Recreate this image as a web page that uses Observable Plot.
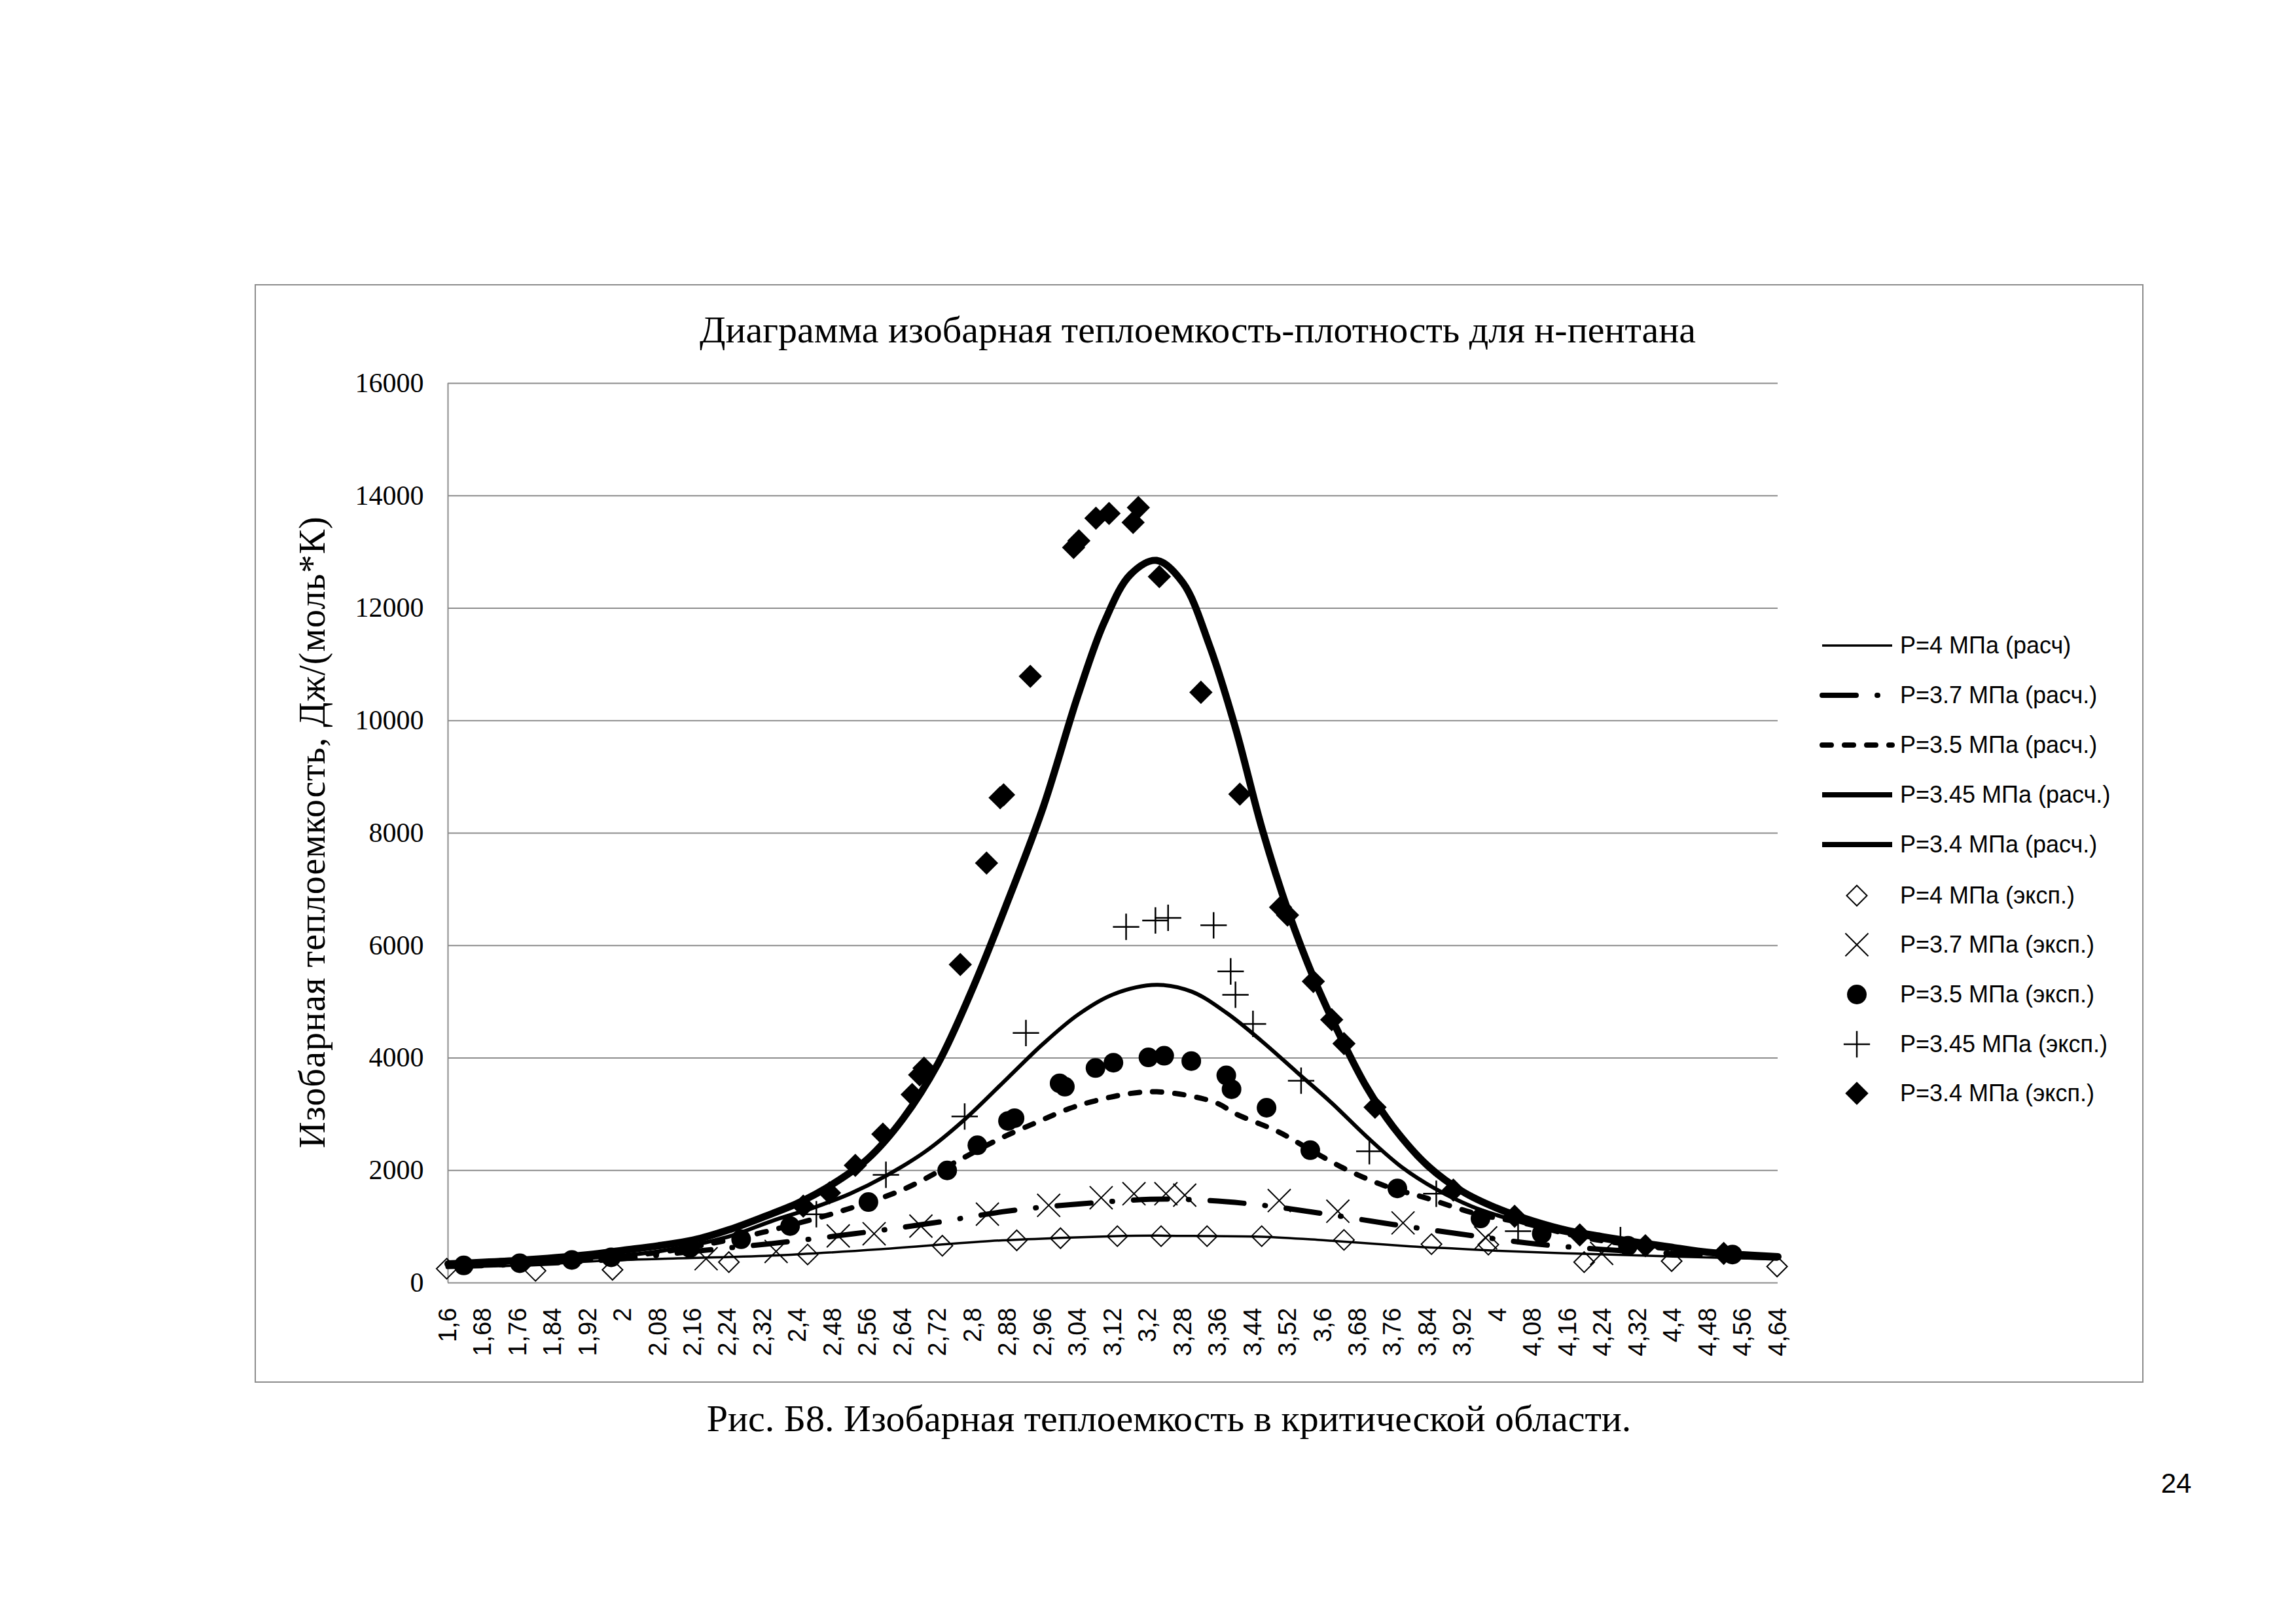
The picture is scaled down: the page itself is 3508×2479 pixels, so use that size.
<!DOCTYPE html>
<html>
<head>
<meta charset="utf-8">
<script src="https://cdn.jsdelivr.net/npm/d3@7"></script>
<script src="https://cdn.jsdelivr.net/npm/@observablehq/plot@0.6"></script>
<style>
  html, body { margin: 0; padding: 0; background: #fff; }
  #page { position: relative; width: 3508px; height: 2479px; background: #fff; overflow: hidden; }
  #page svg.plot { position: absolute; left: 0; top: 0; }
  .abs { position: absolute; white-space: nowrap; color: #000; }
  .serif { font-family: "Liberation Serif", "DejaVu Serif", serif; }
  .sans { font-family: "Liberation Sans", "DejaVu Sans", sans-serif; }
</style>
</head>
<body>
<div id="page"></div>
<script>
// ---------- DATA ----------
const xTicks = [1.6,1.68,1.76,1.84,1.92,2,2.08,2.16,2.24,2.32,2.4,2.48,2.56,2.64,2.72,2.8,2.88,2.96,3.04,3.12,3.2,3.28,3.36,3.44,3.52,3.6,3.68,3.76,3.84,3.92,4,4.08,4.16,4.24,4.32,4.4,4.48,4.56,4.64];
const yTicks = [0,2000,4000,6000,8000,10000,12000,14000,16000];

const titleText = "Диаграмма изобарная теплоемкость-плотность для н-пентана";
const yLabel = "Изобарная теплоемкость, Дж/(моль*К)";
const captionText = "Рис. Б8. Изобарная теплоемкость в критической области.";
const pageNumber = "24";

const legendLabels = [
  "P=4 МПа (расч)", "P=3.7 МПа (расч.)", "P=3.5 МПа (расч.)", "P=3.45 МПа (расч.)", "P=3.4 МПа (расч.)",
  "P=4 МПа (эксп.)", "P=3.7 МПа (эксп.)", "P=3.5 МПа (эксп.)", "P=3.45 МПа (эксп.)", "P=3.4 МПа (эксп.)"
];

// calculated curves [density, Cp]
const calcP40 = [[1.6,270],[1.8,320],[1.94,388],[2.1,430],[2.34,485],[2.59,600],[2.84,745],[3.0,800],[3.12,830],[3.22,840],[3.34,832],[3.46,822],[3.6,760],[3.8,650],[3.9,610],[4.0,570],[4.18,520],[4.4,470],[4.64,420]];
const calcP37 = [[1.6,290],[1.8,340],[2.0,430],[2.16,560],[2.34,700],[2.53,876],[2.71,1068],[2.88,1278],[3.06,1416],[3.24,1490],[3.42,1416],[3.58,1255],[3.76,1040],[3.95,830],[4.09,690],[4.24,595],[4.4,520],[4.64,440]];
const calcP35 = [[1.6,310],[1.76,360],[1.92,420],[2.08,540],[2.24,760],[2.32,900],[2.4,1060],[2.5,1280],[2.64,1660],[2.77,2190],[2.86,2560],[2.95,2870],[3.02,3100],[3.08,3240],[3.16,3370],[3.22,3400],[3.3,3320],[3.36,3190],[3.4,3010],[3.5,2680],[3.57,2370],[3.65,2030],[3.74,1730],[3.84,1500],[3.95,1230],[4.06,1060],[4.2,800],[4.34,650],[4.5,530],[4.64,450]];
const calcP345 = [[1.6,320],[1.76,370],[1.92,440],[2.08,560],[2.24,820],[2.34,1100],[2.44,1350],[2.52,1590],[2.6,1900],[2.69,2330],[2.78,2900],[2.88,3650],[2.96,4250],[3.04,4770],[3.12,5130],[3.22,5300],[3.3,5180],[3.38,4800],[3.46,4300],[3.54,3750],[3.62,3200],[3.7,2600],[3.78,2060],[3.86,1660],[3.94,1360],[4.02,1150],[4.1,980],[4.18,850],[4.26,740],[4.34,660],[4.42,600],[4.5,540],[4.64,460]];
const calcP34 = [[1.6,338],[1.76,400],[1.92,500],[2.0,580],[2.08,660],[2.16,760],[2.24,940],[2.32,1170],[2.4,1420],[2.48,1760],[2.56,2210],[2.64,2920],[2.72,3900],[2.8,5250],[2.88,6800],[2.96,8450],[3.04,10450],[3.1,11750],[3.16,12600],[3.22,12850],[3.28,12450],[3.34,11350],[3.4,9870],[3.46,8100],[3.52,6620],[3.58,5400],[3.64,4380],[3.7,3480],[3.76,2780],[3.84,2080],[3.92,1620],[4.0,1320],[4.08,1100],[4.16,930],[4.24,820],[4.32,720],[4.4,630],[4.48,545],[4.56,500],[4.64,466]];

// experimental points [density, Cp]
const expP40 = [[1.597,252],[1.8,214],[1.976,233],[2.242,369],[2.422,505],[2.73,660],[2.9,757],[3.0,795],[3.13,831],[3.23,831],[3.335,831],[3.46,831],[3.648,764],[3.848,689],[3.978,680],[4.197,369],[4.397,388],[4.638,291]];
const expP37 = [[2.19,430],[2.35,560],[2.492,835],[2.574,874],[2.681,1010],[2.833,1223],[2.973,1379],[3.093,1515],[3.168,1586],[3.241,1586],[3.284,1560],[3.5,1463],[3.634,1274],[3.783,1067],[3.972,800],[4.237,524]];
const expP35 = [[1.636,311],[1.764,350],[1.883,408],[1.973,454],[2.153,621],[2.27,777],[2.382,1010],[2.561,1437],[2.741,2000],[2.81,2447],[2.88,2880],[2.895,2930],[2.998,3550],[3.01,3490],[3.08,3822],[3.121,3917],[3.201,4011],[3.237,4040],[3.299,3945],[3.379,3690],[3.391,3445],[3.471,3115],[3.571,2360],[3.77,1680],[3.96,1146],[4.1,874],[4.297,660],[4.536,505]];
const expP345 = [[2.442,1220],[2.601,1922],[2.781,2960],[2.921,4445],[3.15,6333],[3.217,6446],[3.246,6493],[3.35,6360],[3.389,5540],[3.4,5125],[3.44,4606],[3.55,3596],[3.706,2341],[3.859,1586],[4.046,920],[4.28,760]];
const expP34 = [[2.412,1365],[2.472,1600],[2.531,2090],[2.594,2645],[2.661,3350],[2.678,3700],[2.688,3820],[2.771,5663],[2.831,7466],[2.862,8630],[2.87,8680],[2.931,10788],[3.03,13080],[3.042,13200],[3.081,13600],[3.111,13686],[3.166,13525],[3.178,13790],[3.226,12562],[3.321,10505],[3.41,8692],[3.503,6682],[3.519,6541],[3.578,5361],[3.62,4681],[3.648,4257],[3.719,3124],[3.898,1650],[4.038,1184],[4.187,854],[4.337,660],[4.516,524]];

// ---------- STYLES ----------
const lineStyles = [
  {stroke: "#000", strokeWidth: 3.5},
  {stroke: "#000", strokeWidth: 8, strokeDasharray: "52,32,1,32", strokeLinecap: "round"},
  {stroke: "#000", strokeWidth: 8, strokeDasharray: "14,20", strokeLinecap: "round"},
  {stroke: "#000", strokeWidth: 6},
  {stroke: "#000", strokeWidth: 11}
];
const sx = d => d[0], sy = d => d[1];
const gray = "#8c8c8c";

const W = 3508, H = 2479;
const plot = Plot.plot({
  width: W, height: H,
  marginLeft: 684, marginRight: W - 2716, marginTop: 585, marginBottom: H - 1959,
  x: {domain: [1.6, 4.64]},
  y: {domain: [0, 16000]},
  style: {background: "transparent"},
  marks: [
    Plot.ruleY(yTicks, {stroke: gray, strokeWidth: 2}),
    Plot.ruleX([1.6], {stroke: gray, strokeWidth: 2}),
    Plot.axisX(xTicks, {tickRotate: -90, tickSize: 0, tickPadding: 38, label: null,
      tickFormat: d => String(d).replace(".", ","), fontSize: 38, fontFamily: "Liberation Sans", fill: "#000"}),
    Plot.axisY(yTicks, {tickSize: 0, tickPadding: 37, label: null,
      tickFormat: d => String(d), fontSize: 42, fontFamily: "Liberation Serif", fill: "#000"}),
    Plot.line(calcP40, {x: sx, y: sy, curve: "catmull-rom", ...lineStyles[0]}),
    Plot.line(calcP37, {x: sx, y: sy, curve: "catmull-rom", ...lineStyles[1]}),
    Plot.line(calcP35, {x: sx, y: sy, curve: "catmull-rom", ...lineStyles[2]}),
    Plot.line(calcP345, {x: sx, y: sy, curve: "catmull-rom", ...lineStyles[3]}),
    Plot.line(calcP34, {x: sx, y: sy, curve: "catmull-rom", ...lineStyles[4]}),
    Plot.dot(expP40, {x: sx, y: sy, symbol: "diamond2", r: 14, fill: "none", stroke: "#000", strokeWidth: 2}),
    Plot.dot(expP37, {x: sx, y: sy, symbol: "times", r: 16, fill: "none", stroke: "#000", strokeWidth: 2}),
    Plot.dot(expP35, {x: sx, y: sy, symbol: "circle", r: 15, fill: "#000", stroke: "none"}),
    Plot.dot(expP345, {x: sx, y: sy, symbol: "plus", r: 13, fill: "none", stroke: "#000", strokeWidth: 2.5}),
    Plot.dot(expP34, {x: sx, y: sy, symbol: "diamond2", r: 16, fill: "#000", stroke: "none"})
  ]
});
plot.classList.add("plot");
const page = document.getElementById("page");
page.appendChild(plot);

function addDiv(html, cls, style) {
  const d = document.createElement("div");
  d.className = "abs " + cls;
  d.textContent = html;
  Object.assign(d.style, style);
  page.appendChild(d);
  return d;
}

// chart frame
const frame = document.createElement("div");
Object.assign(frame.style, {position: "absolute", left: "389px", top: "434px", width: (3275 - 389) + "px", height: (2112 - 434) + "px", border: "2px solid " + gray, boxSizing: "border-box"});
page.appendChild(frame);

// title
addDiv(titleText, "serif", {left: "1830px", top: "503px", fontSize: "58px", transform: "translate(-50%,-50%)"});
// y label
addDiv(yLabel, "serif", {left: "477px", top: "1271px", fontSize: "56px", letterSpacing: "1px", transform: "translate(-50%,-50%) rotate(-90deg)"});
// caption
addDiv(captionText, "serif", {left: "1786px", top: "2166px", fontSize: "58px", transform: "translate(-50%,-50%)"});
// page number
addDiv(pageNumber, "sans", {left: "3325px", top: "2266px", fontSize: "42px", transform: "translate(-50%,-50%)"});

// legend
const rowsY = [986, 1062, 1138, 1214, 1290, 1368, 1443, 1519, 1595, 1670];
const ns = "http://www.w3.org/2000/svg";
const leg = document.createElementNS(ns, "svg");
leg.setAttribute("width", W); leg.setAttribute("height", H);
leg.style.position = "absolute"; leg.style.left = "0"; leg.style.top = "0";
page.appendChild(leg);
const symbolTypes = [
  {type: d3.symbolDiamond2, r: 14, fill: "none", stroke: "#000", sw: 2},
  {type: d3.symbolTimes, r: 16, fill: "none", stroke: "#000", sw: 2},
  {type: d3.symbolCircle, r: 15, fill: "#000", stroke: "none", sw: 0},
  {type: d3.symbolPlus, r: 13, fill: "none", stroke: "#000", sw: 2.5},
  {type: d3.symbolDiamond2, r: 16, fill: "#000", stroke: "none", sw: 0}
];
rowsY.forEach((y, i) => {
  if (i < 5) {
    const s = lineStyles[i];
    const l = document.createElementNS(ns, "line");
    l.setAttribute("x1", 2784); l.setAttribute("x2", 2891);
    l.setAttribute("y1", y); l.setAttribute("y2", y);
    l.setAttribute("stroke", s.stroke);
    l.setAttribute("stroke-width", i === 0 ? 3.5 : 8);
    if (s.strokeDasharray) l.setAttribute("stroke-dasharray", s.strokeDasharray);
    if (s.strokeLinecap) l.setAttribute("stroke-linecap", s.strokeLinecap);
    leg.appendChild(l);
  } else {
    const st = symbolTypes[i - 5];
    const p = document.createElementNS(ns, "path");
    p.setAttribute("d", d3.symbol(st.type, Math.PI * st.r * st.r)());
    p.setAttribute("transform", `translate(2837,${y})`);
    p.setAttribute("fill", st.fill);
    p.setAttribute("stroke", st.stroke);
    p.setAttribute("stroke-width", st.sw);
    leg.appendChild(p);
  }
  addDiv(legendLabels[i], "sans", {left: "2903px", top: y + "px", fontSize: "36px", transform: "translateY(-50%)"});
});
</script>
</body>
</html>
